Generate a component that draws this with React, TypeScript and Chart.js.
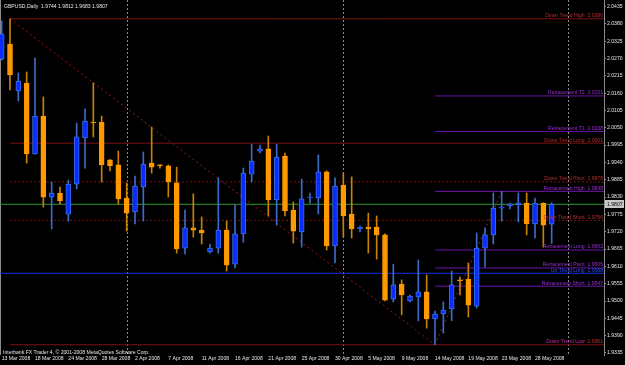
import React, { useEffect, useRef } from "react";
import { Chart, registerables } from "chart.js";

Chart.register(...registerables);

const symbolTitle = "GBPUSD,Daily";
const copyrightText = "Interbank FX Trader 4, \u00A9 2001-2008 MetaQuotes Software Corp.";

const dates = [
  "13 Mar 2008", "14 Mar 2008", "16 Mar 2008", "17 Mar 2008", "18 Mar 2008", "19 Mar 2008", "20 Mar 2008", "23 Mar 2008", "24 Mar 2008", "25 Mar 2008",
  "26 Mar 2008", "27 Mar 2008", "28 Mar 2008", "30 Mar 2008", "31 Mar 2008", "1 Apr 2008", "2 Apr 2008", "3 Apr 2008", "4 Apr 2008", "6 Apr 2008",
  "7 Apr 2008", "8 Apr 2008", "9 Apr 2008", "10 Apr 2008", "11 Apr 2008", "13 Apr 2008", "14 Apr 2008", "15 Apr 2008", "16 Apr 2008", "17 Apr 2008",
  "18 Apr 2008", "20 Apr 2008", "21 Apr 2008", "22 Apr 2008", "23 Apr 2008", "24 Apr 2008", "25 Apr 2008", "27 Apr 2008", "28 Apr 2008", "29 Apr 2008",
  "30 Apr 2008", "1 May 2008", "2 May 2008", "4 May 2008", "5 May 2008", "6 May 2008", "7 May 2008", "8 May 2008", "9 May 2008", "11 May 2008",
  "12 May 2008", "13 May 2008", "14 May 2008", "15 May 2008", "16 May 2008", "18 May 2008", "19 May 2008", "20 May 2008", "21 May 2008", "22 May 2008",
  "23 May 2008", "25 May 2008", "26 May 2008", "27 May 2008", "28 May 2008", "29 May 2008", "30 May 2008",
];

const opens = [
  2.0268, 2.0316, 2.0167, 2.0192, 1.9967, 2.0087, 1.9830, 1.9843, 1.9776, 1.9871,
  2.0018, 2.0068, 2.0068, 1.9948, 1.9932, 1.9827, 1.9783, 1.9862, 1.9938, 1.9932,
  1.9929, 1.9875, 1.9668, 1.9732, 1.9725, 1.9656, 1.9668, 1.9725, 1.9617, 1.9713,
  1.9903, 1.9976, 1.9983, 1.9821, 1.9960, 1.9789, 1.9719, 1.9827, 1.9827, 1.9910,
  1.9675, 1.9868, 1.9776, 1.9729, 1.9735, 1.9735, 1.9710, 1.9506, 1.9554, 1.9500,
  1.9513, 1.9529, 1.9443, 1.9459, 1.9475, 1.9567, 1.9570, 1.9484, 1.9668, 1.9710,
  1.9795, 1.9802, 1.9805, 1.9811, 1.9745, 1.9811, 1.9744,
];

const highs = [
  2.0389, 2.0396, 2.0224, 2.0227, 2.0271, 2.0148, 1.9878, 1.9862, 1.9884, 2.0065,
  2.0110, 2.0192, 2.0087, 1.9949, 1.9976, 1.9875, 1.9897, 1.9973, 2.0052, 1.9933,
  1.9932, 1.9925, 1.9789, 1.9840, 1.9767, 1.9681, 1.9891, 1.9754, 1.9805, 1.9922,
  1.9998, 1.9995, 2.0024, 1.9998, 1.9970, 1.9814, 1.9887, 1.9843, 1.9964, 1.9913,
  1.9891, 1.9906, 1.9894, 1.9738, 1.9779, 1.9770, 1.9713, 1.9617, 1.9567, 1.9519,
  1.9630, 1.9583, 1.9468, 1.9497, 1.9595, 1.9576, 1.9621, 1.9716, 1.9732, 1.9843,
  1.9848, 1.9811, 1.9843, 1.9843, 1.9827, 1.9812, 1.9812,
];

const lows = [
  2.0265, 2.0170, 2.0135, 1.9938, 1.9966, 1.9798, 1.9729, 1.9808, 1.9754, 1.9856,
  1.9922, 2.0021, 1.9878, 1.9913, 1.9808, 1.9722, 1.9745, 1.9754, 1.9906, 1.9922,
  1.9830, 1.9652, 1.9649, 1.9703, 1.9681, 1.9652, 1.9652, 1.9595, 1.9605, 1.9687,
  1.9878, 1.9970, 1.9770, 1.9741, 1.9770, 1.9684, 1.9671, 1.9811, 1.9776, 1.9662,
  1.9621, 1.9703, 1.9700, 1.9719, 1.9652, 1.9633, 1.9500, 1.9497, 1.9456, 1.9497,
  1.9437, 1.9414, 1.9361, 1.9398, 1.9437, 1.9519, 1.9449, 1.9478, 1.9608, 1.9681,
  1.9754, 1.9792, 1.9751, 1.9710, 1.9700, 1.9671, 1.9683,
];

const closes = [
  2.0348, 2.0218, 2.0198, 1.9967, 2.0087, 1.9830, 1.9843, 1.9818, 1.9871, 2.0021,
  2.0071, 2.0065, 1.9932, 1.9929, 1.9824, 1.9779, 1.9865, 1.9935, 1.9925, 1.9929,
  1.9878, 1.9665, 1.9732, 1.9725, 1.9716, 1.9668, 1.9725, 1.9614, 1.9713, 1.9906,
  1.9944, 1.9983, 1.9821, 1.9957, 1.9786, 1.9722, 1.9824, 1.9830, 1.9910, 1.9675,
  1.9865, 1.9770, 1.9729, 1.9735, 1.9729, 1.9710, 1.9503, 1.9551, 1.9519, 1.9516,
  1.9529, 1.9443, 1.9459, 1.9471, 1.9551, 1.9564, 1.9487, 1.9668, 1.9710, 1.9795,
  1.9798, 1.9808, 1.9811, 1.9745, 1.9811, 1.9741, 1.9807,
];

const yTickValues = [
  2.0435, 2.038, 2.0325, 2.027, 2.0215, 2.016, 2.0105, 2.005, 1.9995, 1.994, 1.9885,
  1.983, 1.9775, 1.972, 1.9665, 1.961, 1.9555, 1.95, 1.9445, 1.939, 1.9335,
];

const xTickLabels = [
  "13 Mar 2008", "18 Mar 2008", "24 Mar 2008", "28 Mar 2008", "2 Apr 2008", "7 Apr 2008", "11 Apr 2008", "16 Apr 2008",
  "21 Apr 2008", "25 Apr 2008", "30 Apr 2008", "5 May 2008", "9 May 2008", "14 May 2008", "19 May 2008", "23 May 2008", "28 May 2008",
];

// month separators (bar indices; last one is the projected 1st trading bar of June)
const monthSeparatorBars = [15, 41, 68];

// analysis objects
const levelNames = [
  "Down Trend High", "Retracement T2", "Retracement T1", "Down Trend Long", "Down Trend Pivot", "Retracement High",
  "Down Trend Short", "Retracement Long", "Retracement Pivot", "Up Trend Long", "Retracement Short", "Down Trend Low",
];
const levelValues = [2.0396, 2.0151, 2.0038, 2.0001, 1.9878, 1.9848, 1.9756, 1.9662, 1.9605, 1.9588, 1.9547, 1.9361];
const levelGroups = ["down", "retr", "retr", "down", "down", "retr", "down", "retr", "retr", "up", "retr", "down"];

const trendHighBar = 1; // 14 Mar 2008
const trendLowBar = 52; // 14 May 2008
const retraceHighBar = 60; // 23 May 2008

const FONT = "'Liberation Sans', Arial, sans-serif";
const FS = 5.1;

const ORANGE = "#ff9900";
const ORANGE_WICK = "#c98200";
const BLUE = "#0a2cff";
const BLUE_EDGE = "#3a6fe0";
const BLUE_WICK = "#3b6cc8";

const X_MIN = -0.2;
const X_MAX = 72.28;
const Y_MIN = 1.93286;
const Y_MAX = 2.04556;

const groupLine: Record<string, string> = { down: "#7e1212", retr: "#6c12a6", up: "#1530e8" };
const groupText: Record<string, string> = { down: "#b4302c", retr: "#9a2fd6", up: "#2c4cff" };
const dottedLevels = new Set(["Down Trend Pivot", "Down Trend Short"]);

export default function App() {
  const ref = useRef<HTMLCanvasElement | null>(null);

  useEffect(() => {
    const canvas = ref.current;
    if (!canvas) return;
    const last = dates.length - 1;
    const bull = closes.map((c, i) => c >= opens[i]);
    const lvl = (name: string) => levelValues[levelNames.indexOf(name)];

    const bodies: any = {
      type: "bar",
      data: dates.map((_, i) => ({ x: i, y: [opens[i], closes[i]] })),
      backgroundColor: bull.map((b) => (b ? BLUE : ORANGE)),
      borderColor: bull.map((b) => (b ? BLUE_EDGE : ORANGE)),
      borderWidth: 1,
      borderSkipped: false,
      barThickness: 5,
      minBarLength: 1,
      grouped: false,
      order: 0,
    };
    const wicks: any = {
      type: "bar",
      data: dates.map((_, i) => ({ x: i, y: [lows[i], highs[i]] })),
      backgroundColor: bull.map((b) => (b ? BLUE_WICK : ORANGE_WICK)),
      borderWidth: 0,
      barThickness: 1,
      minBarLength: 1,
      grouped: false,
      order: 1,
    };

    const lineDs = (pts: { x: number; y: number }[], color: string, dash: number[], order = 5) => ({
      type: "line",
      data: pts,
      borderColor: color,
      borderWidth: 1,
      borderDash: dash,
      pointRadius: 0,
      fill: false,
      tension: 0,
      order,
    });

    const levelSets = levelNames.map((name, i) => {
      const g = levelGroups[i];
      const start = g === "down" ? trendHighBar : g === "retr" ? trendLowBar : X_MIN;
      return lineDs(
        [
          { x: start, y: levelValues[i] },
          { x: X_MAX, y: levelValues[i] },
        ],
        groupLine[g],
        dottedLevels.has(name) ? [2, 2] : [],
      );
    });

    const bidLine = lineDs(
      [
        { x: X_MIN, y: closes[last] },
        { x: X_MAX, y: closes[last] },
      ],
      "#2f9a2f",
      [],
      4,
    );

    const downDiag = lineDs(
      [
        { x: trendHighBar, y: lvl("Down Trend High") },
        { x: trendLowBar, y: lvl("Down Trend Low") },
      ],
      "#a01818",
      [2, 3],
    );
    const upDiag = lineDs(
      [
        { x: trendLowBar, y: lvl("Down Trend Low") },
        { x: retraceHighBar, y: lvl("Retracement High") },
      ],
      "#a01818",
      [2, 3],
    );

    const mtPlugin = {
      id: "mt4",
      beforeDraw(chart: any) {
        const { ctx, width, height } = chart;
        ctx.save();
        ctx.fillStyle = "#000000";
        ctx.fillRect(0, 0, width, height);
        ctx.restore();
      },
      beforeDatasetsDraw(chart: any) {
        const { ctx, chartArea } = chart;
        const xs = chart.scales.x;
        ctx.save();
        ctx.strokeStyle = "#8c8c8c";
        ctx.lineWidth = 1;
        ctx.setLineDash([2, 2]);
        for (const b of monthSeparatorBars) {
          const px = Math.round(xs.getPixelForValue(b)) + 0.5;
          ctx.beginPath();
          ctx.moveTo(px, chartArea.top);
          ctx.lineTo(px, chartArea.bottom);
          ctx.stroke();
        }
        ctx.setLineDash([]);
        ctx.strokeStyle = "#8c8c8c";
        ctx.beginPath();
        ctx.moveTo(0.5, chartArea.top);
        ctx.lineTo(0.5, chartArea.bottom);
        ctx.stroke();
        ctx.restore();
      },
      afterDraw(chart: any) {
        const { ctx, chartArea } = chart;
        const ys = chart.scales.y;
        ctx.save();
        ctx.font = `${FS}px ${FONT}`;
        ctx.textBaseline = "alphabetic";
        // level labels
        levelNames.forEach((name, i) => {
          const g = levelGroups[i];
          const py = ys.getPixelForValue(levelValues[i]);
          const valTxt = levelValues[i].toFixed(4);
          const right = chartArea.right - 1;
          ctx.textAlign = "right";
          if (name === "Down Trend Low") {
            ctx.fillStyle = "#c03030";
            ctx.fillText(valTxt, right, py - 1.5);
            const vw = ctx.measureText("  " + valTxt).width;
            ctx.fillStyle = "#c42aa8";
            ctx.fillText(name, right - vw, py - 1.5);
          } else {
            ctx.fillStyle = groupText[g];
            ctx.fillText(`${name}  ${valTxt}`, right, py - 1.5);
          }
        });
        // header
        ctx.textAlign = "left";
        ctx.fillStyle = "#e6e6e6";
        const hdr = `${symbolTitle}  ${opens[last].toFixed(4)} ${highs[last].toFixed(4)} ${lows[last].toFixed(4)} ${closes[last].toFixed(4)}`;
        ctx.fillText(hdr, 4, 7.5);
        ctx.fillText(copyrightText, 3, chartArea.bottom - 1);
        // bid price box on the axis
        const by = ys.getPixelForValue(closes[last]);
        ctx.fillStyle = "#c8c8c8";
        ctx.fillRect(chartArea.right + 1, Math.round(by) - 4, 19, 8);
        ctx.fillStyle = "#000000";
        ctx.textBaseline = "middle";
        ctx.fillText(closes[last].toFixed(4), chartArea.right + 3, by);
        ctx.restore();
      },
    };

    const chart = new Chart(canvas, {
      type: "bar",
      data: {
        datasets: [bodies, wicks, bidLine, ...levelSets, downDiag, upDiag] as any,
      },
      options: {
        responsive: false,
        maintainAspectRatio: false,
        animation: false,
        events: [],
        layout: { padding: 0 },
        plugins: {
          legend: { display: false },
          tooltip: { enabled: false },
          title: { display: false },
        },
        scales: {
          x: {
            type: "linear",
            min: X_MIN,
            max: X_MAX,
            offset: false,
            grid: { display: false, drawTicks: false },
            border: { display: false },
            afterBuildTicks: (s: any) => {
              s.ticks = xTickLabels.map((l) => ({ value: dates.indexOf(l) }));
            },
            afterFit: (s: any) => {
              s.height = 10;
              s.paddingLeft = 0;
              s.paddingRight = 0;
            },
            ticks: {
              autoSkip: false,
              maxRotation: 0,
              minRotation: 0,
              align: "start",
              padding: 1,
              color: "#e6e6e6",
              font: { family: FONT, size: FS },
              callback: (v: any) => dates[Number(v)] ?? "",
            },
          },
          y: {
            type: "linear",
            position: "right",
            min: Y_MIN,
            max: Y_MAX,
            beginAtZero: false,
            grid: { drawOnChartArea: false, drawTicks: true, tickLength: 2, color: "#8c8c8c" },
            border: { display: true, color: "#8c8c8c", width: 1 },
            afterBuildTicks: (s: any) => {
              s.ticks = yTickValues.map((v) => ({ value: v }));
            },
            afterFit: (s: any) => {
              s.width = 21;
              s.paddingTop = 0;
              s.paddingBottom = 0;
            },
            ticks: {
              autoSkip: false,
              padding: 1,
              color: "#e6e6e6",
              font: { family: FONT, size: FS },
              callback: (v: any) => Number(v).toFixed(4),
            },
          },
        } as any,
      },
      plugins: [mtPlugin],
    });

    return () => chart.destroy();
  }, []);

  return (
    <div style={{ position: "fixed", left: 0, top: 0, width: 625, height: 365, background: "#000" }}>
      <canvas ref={ref} width={625} height={365} style={{ display: "block", width: 625, height: 365 }} />
    </div>
  );
}
